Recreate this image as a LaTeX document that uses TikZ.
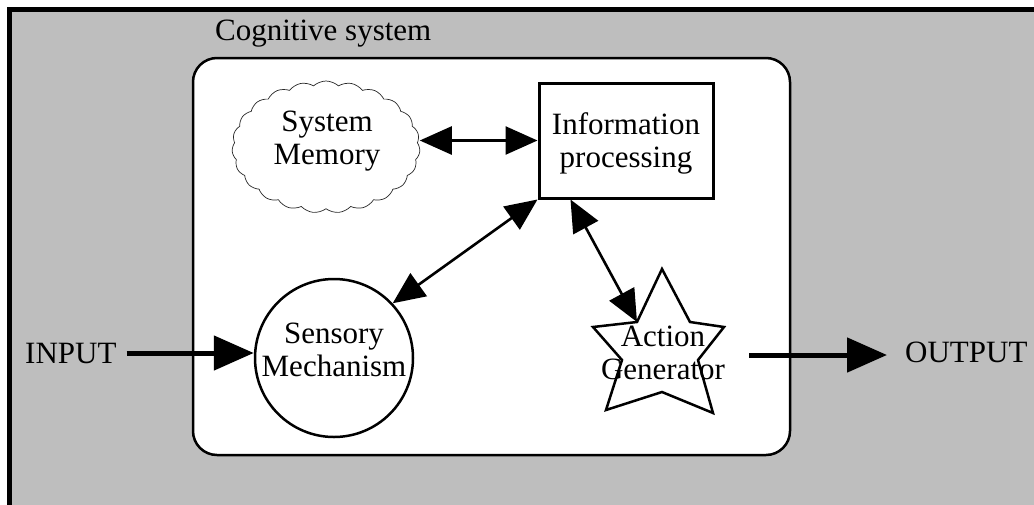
\documentclass[tikz,border=0pt]{standalone}
\usepackage{fontspec}
\setmainfont{Liberation Serif}
\usetikzlibrary{arrows.meta,shapes.symbols}
\definecolor{panelgray}{RGB}{190,190,190}
\definecolor{cloudline}{RGB}{40,40,40}
\begin{document}
\begin{tikzpicture}[x=1pt,y=-1pt,
  lbl/.style={font=\fontsize{31}{33}\selectfont, align=center, inner sep=0pt},
  twoway/.style={line width=2.6pt, {Triangle[length=32pt,width=28pt]}-{Triangle[length=32pt,width=28pt]}},
  flow/.style={line width=5pt, -{Triangle[length=40pt,width=34pt]}},
  shapeline/.style={draw=black, line width=2.5pt, fill=white}]
  \useasboundingbox (0,0) rectangle (1034,504);
  \clip (0,0) rectangle (1034,504);

  % outer panel
  \draw[line width=5pt, fill=panelgray] (9.5,9.5) rectangle (1060,530);

  % cognitive system boundary
  \node[lbl, anchor=base west] (title) at (215,40) {Cognitive system};
  \node[shapeline, rounded corners=24pt, minimum width=597pt, minimum height=397pt, inner sep=0pt]
    (cog) at (491.5,256.5) {};

  % system memory cloud
  \node[cloud, cloud puffs=23, cloud puff arc=85, draw=cloudline, fill=white, line width=0.7pt,
        minimum width=188pt, minimum height=132pt, inner sep=0pt] (mem) at (326,147) {};
  \node[lbl] (memtext) at (327,141) {System\\Memory};

  % information processing box
  \node[draw, line width=3pt, fill=white, minimum width=174pt, minimum height=115pt, inner sep=0pt]
    (info) at (626,140.5) {};
  \node[lbl] (infotext) at (626,143) {Information\\processing};

  % sensory mechanism
  \node[shapeline, circle, minimum size=158pt, inner sep=0pt] (sens) at (334,358) {};
  \node[lbl] (senstext) at (334,350) {Sensory\\Mechanism};

  % action generator star
  \coordinate (st-top) at (662,269);
  \coordinate (st-ur)  at (690,322);
  \coordinate (st-r)   at (724,327);
  \coordinate (st-lr)  at (698,360);
  \coordinate (st-br)  at (713,413);
  \coordinate (st-b)   at (662,392);
  \coordinate (st-bl)  at (606,410);
  \coordinate (st-ll)  at (622,360);
  \coordinate (st-l)   at (593,327);
  \coordinate (st-ul)  at (637,322);
  \draw[line width=2.5pt, line join=miter, fill=white]
    (st-top) -- (st-ur) -- (st-r) -- (st-lr) -- (st-br) -- (st-b)
    -- (st-bl) -- (st-ll) -- (st-l) -- (st-ul) -- cycle;
  \node[lbl] (acttext) at (663,353) {Action\\Generator};

  % internal connections
  \draw[twoway] (mem.east |- info.west) -- (info.west);
  \draw[twoway] (info.south west) -- (sens.43);
  \draw[twoway] ([xshift=33pt]info.south west) -- (st-ul);

  % input and output
  \node[lbl, anchor=west] (in) at (25,353) {INPUT};
  \draw[flow, shorten <=10pt] (in.east) -- (in.east -| sens.west);
  \node[lbl, anchor=west] (out) at (905,352) {OUTPUT};
  \coordinate (gen-out) at (749,355);
  \draw[flow, shorten >=18pt] (gen-out) -- (gen-out -| out.west);
\end{tikzpicture}
\end{document}
